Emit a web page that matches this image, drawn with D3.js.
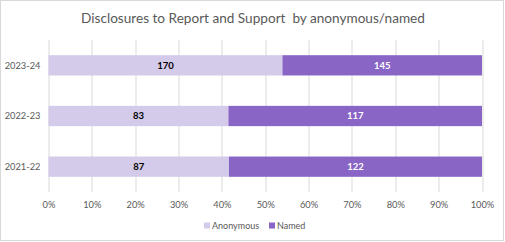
<!DOCTYPE html>
<html>
<head>
  <meta charset="utf-8">
  <title>Disclosures to Report and Support</title>
  <script src="https://d3js.org/d3.v7.min.js"></script>
</head>
<style>
  body { margin: 0; background: white; }
  svg { font-family: Lato, "Open Sans", sans-serif; }
</style>
<body>
</body>
<script>

  var years = ['2023-24', '2022-23', '2021-22'];
  var anonymous = [170, 83, 87];
  var named = [145, 117, 122];
  var seriesNames = ['Anonymous', 'Named'];
  var seriesColors = ['#d4cae9', '#8965c5'];
  var xTicks = [0, 0.1, 0.2, 0.3, 0.4, 0.5, 0.6, 0.7, 0.8, 0.9, 1];

  var W = 505, H = 242;
  var margin = {top: 40, right: 23, bottom: 50, left: 48.5}
    , width = W - margin.left - margin.right
    , height = H - margin.top - margin.bottom;

  var svg = d3.select('body').append('svg')
    .attr('width', W)
    .attr('height', H);

  // outer frame
  svg.append('rect')
    .attr('x', 0.5).attr('y', 0.5)
    .attr('width', W - 2).attr('height', H - 2)
    .attr('fill', 'white')
    .attr('stroke', '#d9d9d9');

  svg.append('text')
    .attr('x', 253)
    .attr('y', 23)
    .attr('text-anchor', 'middle')
    .style('font-size', '13.6px')
    .style('fill', '#595959')
    .style('white-space', 'pre')
    .text('Disclosures to Report and Support  by anonymous/named');

  var g = svg.append('g')
    .attr('transform', 'translate(' + margin.left + ',' + margin.top + ')');

  var xScale = d3.scaleLinear().domain([0, 1]).range([0, width]);
  var yScale = d3.scaleBand().domain(years).range([0, height]).paddingInner(0.6).paddingOuter(0.3);

  // gridlines
  g.selectAll('.grid')
    .data(xTicks)
    .enter().append('line')
      .attr('x1', function(d) { return Math.round(xScale(d)) + 0.5; })
      .attr('x2', function(d) { return Math.round(xScale(d)) + 0.5; })
      .attr('y1', 0)
      .attr('y2', height)
      .attr('stroke', '#d9d9d9');

  var rows = years.map(function(y, i) {
    var total = anonymous[i] + named[i];
    return {year: y, vals: [anonymous[i], named[i]], total: total};
  });

  var row = g.selectAll('.row')
    .data(rows)
    .enter().append('g')
      .attr('transform', function(d) { return 'translate(0,' + yScale(d.year) + ')'; });

  row.each(function(d) {
    var start = 0;
    var sel = d3.select(this);
    d.vals.forEach(function(v, k) {
      var x0 = xScale(start / d.total), x1 = xScale((start + v) / d.total);
      sel.append('rect')
        .attr('x', x0).attr('y', 0)
        .attr('width', x1 - x0)
        .attr('height', yScale.bandwidth())
        .attr('fill', seriesColors[k]);
      sel.append('text')
        .attr('x', (x0 + x1) / 2)
        .attr('y', yScale.bandwidth() / 2)
        .attr('dy', '0.35em')
        .attr('text-anchor', 'middle')
        .style('font-size', '9.5px')
        .style('font-weight', 'bold')
        .style('fill', k == 0 ? '#000000' : '#ffffff')
        .text(v);
      start += v;
    });
  });

  // y labels
  g.selectAll('.ylab')
    .data(years)
    .enter().append('text')
      .attr('x', -8)
      .attr('y', function(d) { return yScale(d) + yScale.bandwidth() / 2; })
      .attr('dy', '0.35em')
      .attr('text-anchor', 'end')
      .style('font-size', '9.3px')
      .style('fill', '#595959')
      .text(function(d) { return d; });

  // x axis
  var xAxis = g.append('g')
    .attr('transform', 'translate(0,' + height + ')')
    .call(d3.axisBottom(xScale).tickValues(xTicks).tickFormat(d3.format('.0%')).tickSize(0).tickPadding(9));
  xAxis.select('.domain').remove();
  xAxis.selectAll('text')
    .style('font-size', '9.3px')
    .style('font-family', 'Lato, sans-serif')
    .style('fill', '#595959');

  // legend
  var legend = svg.append('g').attr('transform', 'translate(0,' + 226 + ')');
  var legendX = [204, 269];
  seriesNames.forEach(function(s, k) {
    legend.append('rect')
      .attr('x', legendX[k]).attr('y', -3.5)
      .attr('width', 6).attr('height', 6)
      .attr('fill', seriesColors[k]);
    legend.append('text')
      .attr('x', legendX[k] + 8)
      .attr('y', 0)
      .attr('dy', '0.35em')
      .style('font-size', '9px')
      .style('fill', '#595959')
      .text(s);
  });

</script>
</html>
